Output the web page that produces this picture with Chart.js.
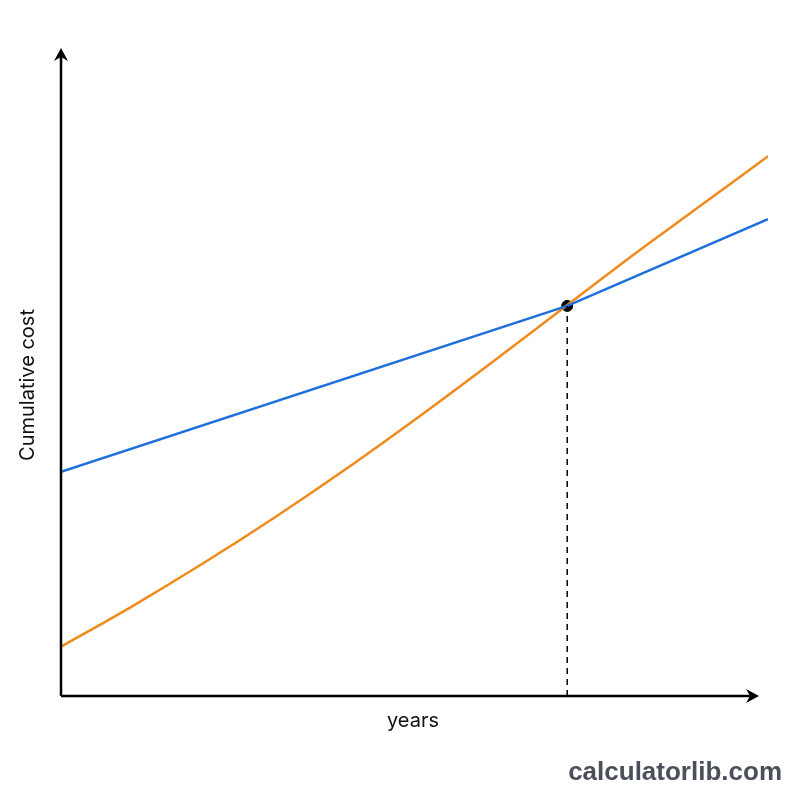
<!DOCTYPE html>
<html>
<head>
<meta charset="utf-8">
<script src="https://cdn.jsdelivr.net/npm/chart.js@4.4.1/dist/chart.umd.min.js"></script>
<style>
  html, body { margin: 0; padding: 0; background: #fff; }
  #wrap { width: 800px; height: 800px; position: relative; }
</style>
</head>
<body>
<div id="wrap"><canvas id="chart" width="800" height="800"></canvas></div>
<script>
// values (x in years, y in cost units 0..100)
const orangeYears = [0, 1, 2, 3, 4, 5, 6, 7, 8, 9, 10];
const orangeCost = [7.6, 13.8, 20.4, 27.4, 34.8, 42.6, 50.7, 59.0, 67.3, 75.3, 83.3];
const blueYears = [0, 7.16, 10];
const blueCost = [34.6, 60.2, 73.6];
const breakEven = { x: 7.16, y: 60.2 };

const xLabel = "years";
const yLabel = "Cumulative cost";
const watermark = "calculatorlib.com";

const toPoints = (xs, ys) => xs.map((x, i) => ({ x: x, y: ys[i] }));

const axesPlugin = {
    id: "arrowAxes",
    afterDraw(chart) {
        const ctx = chart.ctx;
        const x = chart.scales.x, y = chart.scales.y;
        const x0 = x.getPixelForValue(0);
        const y0 = y.getPixelForValue(0);
        const topTip = chart.chartArea.top;
        const rightTip = chart.chartArea.right - 9;

        ctx.save();
        ctx.strokeStyle = "#000";
        ctx.fillStyle = "#000";
        ctx.lineWidth = 2.5;

        ctx.beginPath();
        ctx.moveTo(x0, y0);
        ctx.lineTo(x0, topTip + 6);
        ctx.moveTo(x0, y0);
        ctx.lineTo(rightTip - 6, y0);
        ctx.stroke();

        // arrow heads
        ctx.beginPath();
        ctx.moveTo(x0, topTip);
        ctx.lineTo(x0 + 7, topTip + 13);
        ctx.lineTo(x0, topTip + 9);
        ctx.lineTo(x0 - 7, topTip + 13);
        ctx.closePath();
        ctx.fill();

        ctx.beginPath();
        ctx.moveTo(rightTip, y0);
        ctx.lineTo(rightTip - 13, y0 - 7);
        ctx.lineTo(rightTip - 9, y0);
        ctx.lineTo(rightTip - 13, y0 + 7);
        ctx.closePath();
        ctx.fill();

        // axis titles
        ctx.font = "20px Inter, 'Noto Sans', sans-serif";
        ctx.textAlign = "center";
        ctx.textBaseline = "middle";
        ctx.fillStyle = "#111";
        ctx.fillText(xLabel, 413, 721);

        ctx.translate(28, 385);
        ctx.rotate(-Math.PI / 2);
        ctx.fillText(yLabel, 0, 0);
        ctx.restore();

        ctx.save();
        ctx.font = "bold 26px 'Liberation Sans', Arial, sans-serif";
        ctx.fillStyle = "#4a4f5a";
        ctx.textAlign = "right";
        ctx.textBaseline = "alphabetic";
        ctx.fillText(watermark, 782, 780);
        ctx.restore();
    }
};

new Chart(document.getElementById("chart"), {
    type: "scatter",
    data: {
        datasets: [
            {
                label: "drop",
                data: [{ x: breakEven.x, y: 0 }, { x: breakEven.x, y: breakEven.y }],
                showLine: true,
                borderColor: "#000",
                borderWidth: 1.5,
                borderDash: [6, 5],
                pointRadius: 0
            },
            {
                label: "blue",
                data: toPoints(blueYears, blueCost),
                showLine: true,
                borderColor: "#1c6fdc",
                borderWidth: 2.5,
                pointRadius: 0,
                tension: 0
            },
            {
                label: "orange",
                data: toPoints(orangeYears, orangeCost),
                showLine: true,
                borderColor: "#f08a1c",
                borderWidth: 2.5,
                pointRadius: 0,
                cubicInterpolationMode: "monotone"
            },
            {
                label: "break-even",
                data: [breakEven],
                pointRadius: 5.5,
                pointBackgroundColor: "#000",
                pointBorderColor: "#000",
                showLine: false
            }
        ]
    },
    options: {
        responsive: false,
        animation: false,
        layout: { padding: { left: 61, right: 32, top: 48, bottom: 104 } },
        plugins: { legend: { display: false }, tooltip: { enabled: false } },
        scales: {
            x: { type: "linear", min: 0, max: 10, display: false },
            y: { type: "linear", min: 0, max: 100, display: false }
        }
    },
    plugins: [axesPlugin]
});
</script>
</body>
</html>
